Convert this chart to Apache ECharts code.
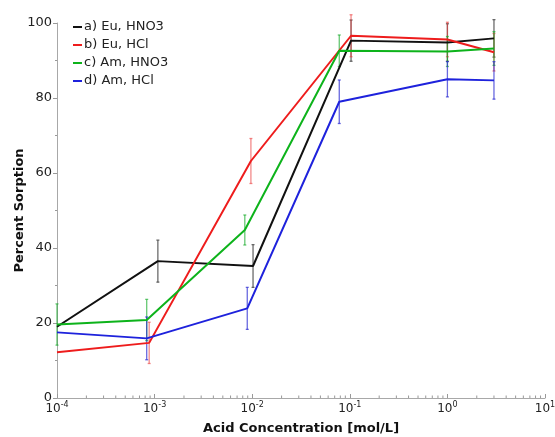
<!DOCTYPE html>
<html>
<head>
<meta charset="utf-8">
<script src="https://cdn.jsdelivr.net/npm/echarts@6/dist/echarts.min.js"></script>
<style>
  html, body { margin: 0; padding: 0; background: #fff; }
  #chart { width: 555px; height: 437px; }
</style>
</head>
<body>
<div id="chart"></div>
<script>
// Sorption of Eu and Am versus acid concentration
const seriesNames = ['a) Eu, HNO3', 'b) Eu, HCl', 'c) Am, HNO3', 'd) Am, HCl'];

// acid concentration [mol/L]
const concEuHNO3 = [1e-4, 1.08e-3, 1.02e-2, 0.103, 1.0, 3.0];
const concEuHCl  = [1e-4, 8.8e-4, 9.7e-3, 0.103, 1.0, 3.0];
const concAmHNO3 = [1e-4, 8.3e-4, 8.4e-3, 0.078, 1.0, 3.0];
const concAmHCl  = [1e-4, 8.3e-4, 8.9e-3, 0.078, 1.0, 3.0];

// percent sorption
const sorpEuHNO3 = [19.0, 36.5, 35.2, 95.3, 94.8, 95.9];
const sorpEuHCl  = [12.2, 14.7, 63.2, 96.6, 95.6, 92.2];
const sorpAmHNO3 = [19.6, 20.8, 44.8, 92.6, 92.4, 93.2];
const sorpAmHCl  = [17.5, 15.9, 23.9, 79.0, 85.0, 84.7];

// uncertainty (+/-)
const errEuHNO3 = [0, 5.6, 5.7, 5.5, 5.0, 5.0];
const errEuHCl  = [0, 5.5, 6.0, 5.6, 4.6, 5.0];
const errAmHNO3 = [5.5, 5.5, 4.0, 4.2, 4.0, 4.5];
const errAmHCl  = [0, 5.7, 5.6, 5.8, 4.7, 5.0];

// axis ticks
const yTicks = [0, 20, 40, 60, 80, 100];
const xDecades = [1e-4, 1e-3, 1e-2, 1e-1, 1, 10];

const FONT = 'DejaVu Sans';
const lineColors = ['#111111', '#ee1c1c', '#0db31b', '#1e22dc'];
const barColors  = ['rgba(70,70,70,0.8)', 'rgba(235,60,60,0.6)', 'rgba(20,170,40,0.65)', 'rgba(40,40,210,0.7)'];

const concs = [concEuHNO3, concEuHCl, concAmHNO3, concAmHCl];
const sorps = [sorpEuHNO3, sorpEuHCl, sorpAmHNO3, sorpAmHCl];
const errs  = [errEuHNO3, errEuHCl, errAmHNO3, errAmHCl];

// logarithmic minor ticks (2..9 within each decade)
const minorX = [];
for (let d = 0; d < xDecades.length - 1; d++) {
  for (let k = 2; k <= 9; k++) minorX.push(xDecades[d] * k);
}

function errorBars(i) {
  const color = barColors[i];
  return {
    type: 'custom',
    name: seriesNames[i],
    silent: true,
    z: 1,
    itemStyle: { color: lineColors[i] },
    data: concs[i].map((x, j) => [x, sorps[i][j] - errs[i][j], sorps[i][j] + errs[i][j], errs[i][j]]),
    encode: { x: 0, y: [1, 2] },
    renderItem: function (params, api) {
      if (!api.value(3)) return null;
      const lo = api.coord([api.value(0), api.value(1)]);
      const hi = api.coord([api.value(0), api.value(2)]);
      const w = 1.5;
      const st = { stroke: color, lineWidth: 1.3 };
      return {
        type: 'group',
        children: [
          { type: 'line', shape: { x1: lo[0], y1: lo[1], x2: hi[0], y2: hi[1] }, style: st },
          { type: 'line', shape: { x1: lo[0] - w, y1: lo[1], x2: lo[0] + w, y2: lo[1] }, style: st },
          { type: 'line', shape: { x1: hi[0] - w, y1: hi[1], x2: hi[0] + w, y2: hi[1] }, style: st }
        ]
      };
    }
  };
}

function lineSeries(i) {
  return {
    type: 'line',
    name: seriesNames[i],
    data: concs[i].map((x, j) => [x, sorps[i][j]]),
    symbol: 'none',
    z: 3,
    itemStyle: { color: lineColors[i] },
    lineStyle: { color: lineColors[i], width: 2 }
  };
}

const series = [];
for (let i = 0; i < 4; i++) series.push(lineSeries(i));
for (let i = 0; i < 4; i++) series.push(errorBars(i));

// minor ticks on the log axis, pointing into the plot
series.push({
  type: 'custom',
  silent: true,
  z: 5,
  data: minorX.map(v => [v, 0]),
  encode: { x: 0, y: 1 },
  renderItem: function (params, api) {
    const p = api.coord([api.value(0), 0]);
    return { type: 'line', shape: { x1: p[0], y1: p[1], x2: p[0], y2: p[1] - 2.5 }, style: { stroke: '#999', lineWidth: 1 } };
  }
});

const chart = echarts.init(document.getElementById('chart'), null, { renderer: 'canvas' });
chart.setOption({
  animation: false,
  backgroundColor: '#fff',
  color: lineColors,
  textStyle: { fontFamily: FONT },
  grid: { left: 57, right: 10, top: 23, bottom: 39, containLabel: false, outerBoundsMode: 'none' },
  legend: {
    data: seriesNames,
    orient: 'vertical',
    left: 68,
    top: 15,
    itemWidth: 9,
    itemHeight: 2,
    itemGap: 4,
    icon: 'rect',
    textStyle: { fontFamily: FONT, fontSize: 13, color: '#222', lineHeight: 14, padding: [0, 0, 0, -3] }
  },
  xAxis: {
    type: 'log',
    logBase: 10,
    min: xDecades[0],
    max: xDecades[xDecades.length - 1],
    name: 'Acid Concentration [mol/L]',
    nameLocation: 'middle',
    nameGap: 24,
    nameMoveOverlap: false,
    nameTextStyle: { fontFamily: FONT, fontSize: 13, fontWeight: 'bold', color: '#111' },
    axisLine: { lineStyle: { color: '#a8a8a8', width: 1 } },
    axisTick: { inside: true, length: 4, lineStyle: { color: '#999' } },
    splitLine: { show: false },
    axisLabel: {
      margin: 3,
      color: '#222',
      formatter: function (v) {
        const e = Math.round(Math.log10(v));
        return '{b|10}{s|' + e + '}';
      },
      rich: {
        b: { fontFamily: FONT, fontSize: 12, color: '#222' },
        s: { fontFamily: FONT, fontSize: 8, color: '#222', padding: [0, 0, 7, 0] }
      }
    }
  },
  yAxis: {
    type: 'value',
    min: yTicks[0],
    max: yTicks[yTicks.length - 1],
    interval: 20,
    name: 'Percent Sorption',
    nameLocation: 'middle',
    nameGap: 31,
    nameMoveOverlap: false,
    nameTextStyle: { fontFamily: FONT, fontSize: 13, fontWeight: 'bold', color: '#111' },
    axisLine: { show: true, lineStyle: { color: '#a8a8a8', width: 1 } },
    axisTick: { show: true, inside: false, length: 4, lineStyle: { color: '#999' } },
    minorTick: { show: true, splitNumber: 2, length: 2, lineStyle: { color: '#999' } },
    splitLine: { show: false },
    axisLabel: { margin: 5, fontFamily: FONT, fontSize: 13, color: '#222' }
  },
  series: series
});
</script>
</body>
</html>
